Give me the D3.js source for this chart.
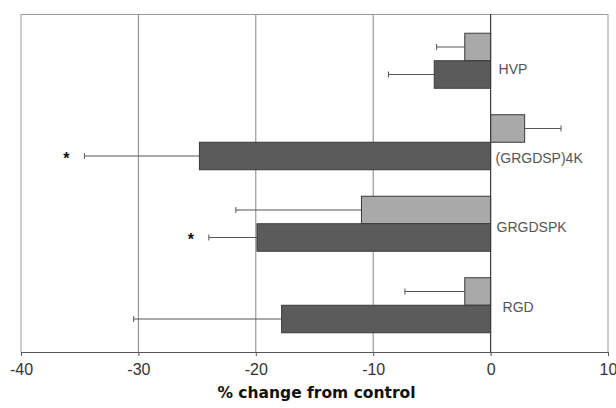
<!DOCTYPE html>
<html>
<head>
<meta charset="utf-8">
<script src="https://cdn.jsdelivr.net/npm/d3@7"></script>
<style>
  html, body { margin: 0; padding: 0; background: #fff; }
  svg { display: block; }
</style>
</head>
<body>
<svg id="chart" width="616" height="408"></svg>
<script>
// ---- data ----
const categories = ["HVP", "(GRGDSP)4K", "GRGDSPK", "RGD"];
const series = ["light", "dark"];
const lightValues = [-2.2, 2.9, -11.0, -2.2];
const lightErrors = [2.4, 3.1, 10.7, 5.1];
const darkValues = [-4.8, -24.8, -19.9, -17.8];
const darkErrors = [3.9, 9.8, 4.1, 12.6];
const darkSignificant = [false, true, true, false];
const xTicks = [-40, -30, -20, -10, 0, 10];
const xTitle = "% change from control";

// ---- drawing ----
(function () {
const svg = d3.select("#chart");
const pL = 21, pR = 608, pT = 14, pB = 352;

const x = d3.scaleLinear().domain([-40, 10]).range([pL, pR]);
const y = d3.scaleBand().domain(categories).range([pT, pB])
  .paddingInner(0.325).paddingOuter(0.236);
const ySub = d3.scaleBand().domain(series).range([0, y.bandwidth()]).padding(0);

const colors = { light: "#a9a9a9", dark: "#5b5b5b" };

// gridlines
svg.append("g").selectAll("line")
  .data(xTicks.filter(t => t !== -40 && t !== 0 && t !== 10))
  .join("line")
  .attr("x1", d => x(d)).attr("x2", d => x(d))
  .attr("y1", pT).attr("y2", pB)
  .attr("stroke", "#858585").attr("stroke-width", 1);

// frame: top, left, right
svg.append("line").attr("x1", x(-40)).attr("x2", x(10)).attr("y1", pT + 0.5).attr("y2", pT + 0.5)
  .attr("stroke", "#9a9a9a");
svg.append("line").attr("x1", x(-40)).attr("x2", x(-40)).attr("y1", pT).attr("y2", pB)
  .attr("stroke", "#9a9a9a");
svg.append("line").attr("x1", x(10)).attr("x2", x(10)).attr("y1", pT).attr("y2", pB)
  .attr("stroke", "#9a9a9a");

// rows
const rows = categories.map((c, i) => ({
  cat: c,
  bars: [
    { s: "light", v: lightValues[i], e: lightErrors[i], sig: false },
    { s: "dark", v: darkValues[i], e: darkErrors[i], sig: darkSignificant[i] }
  ]
}));

const g = svg.append("g").selectAll("g").data(rows).join("g")
  .attr("transform", d => `translate(0,${y(d.cat)})`);

// error bars
g.each(function (d) {
  const gg = d3.select(this);
  d.bars.forEach(b => {
    const cy = ySub(b.s) + ySub.bandwidth() / 2;
    const end = b.v >= 0 ? b.v + b.e : b.v - b.e;
    gg.append("line")
      .attr("x1", x(b.v)).attr("x2", x(end))
      .attr("y1", cy).attr("y2", cy)
      .attr("stroke", "#555").attr("stroke-width", 1);
    gg.append("line")
      .attr("x1", x(end)).attr("x2", x(end))
      .attr("y1", cy - 3).attr("y2", cy + 3)
      .attr("stroke", "#555").attr("stroke-width", 1);
    if (b.sig) {
      gg.append("text")
        .attr("x", x(end) - 18).attr("y", cy + 8)
        .attr("text-anchor", "middle")
        .attr("font-family", "Liberation Sans, Arial, sans-serif")
        .attr("font-weight", "bold")
        .attr("font-size", 16)
        .attr("fill", "#111")
        .text("*");
    }
  });
});

g.selectAll("rect").data(d => d.bars).join("rect")
  .attr("x", b => x(Math.min(0, b.v)))
  .attr("width", b => Math.abs(x(b.v) - x(0)))
  .attr("y", b => ySub(b.s))
  .attr("height", ySub.bandwidth())
  .attr("fill", b => colors[b.s])
  .attr("stroke", "#3a3a3a").attr("stroke-width", 1);

// zero line
svg.append("line").attr("x1", x(0)).attr("x2", x(0)).attr("y1", pT).attr("y2", pB)
  .attr("stroke", "#3c3c3c").attr("stroke-width", 1.2);

// category labels
const labelNudge = { "HVP": [8, 8], "(GRGDSP)4K": [5, 16], "GRGDSPK": [6, 3], "RGD": [12, 2] };
svg.append("g").selectAll("text").data(categories).join("text")
  .attr("x", d => x(0) + labelNudge[d][0])
  .attr("y", d => y(d) + y.bandwidth() / 2 + labelNudge[d][1])
  .attr("dy", "0.35em")
  .attr("font-family", "Liberation Sans, Arial, sans-serif")
  .attr("font-size", 14)
  .attr("fill", "#555")
  .text(d => d);

// x axis
const axis = d3.axisBottom(x).tickValues(xTicks).tickSize(4).tickSizeOuter(0).tickPadding(8)
  .tickFormat(d => d < 0 ? "-" + Math.abs(d) : String(d));
const ax = svg.append("g").attr("transform", `translate(0,${pB})`).call(axis);
ax.select(".domain").attr("stroke", "#555");
ax.selectAll(".tick line").attr("stroke", "#555");
ax.selectAll(".tick text")
  .attr("font-family", "Liberation Sans, Arial, sans-serif")
  .attr("font-size", 16)
  .attr("fill", "#333");

// axis title
svg.append("text")
  .attr("x", (pL + pR) / 2 + 2).attr("y", 398)
  .attr("text-anchor", "middle")
  .attr("font-family", "DejaVu Sans, Verdana, sans-serif")
  .attr("font-weight", "bold")
  .attr("font-size", 15.5)
  .attr("fill", "#111")
  .text(xTitle);
})();
</script>
</body>
</html>
